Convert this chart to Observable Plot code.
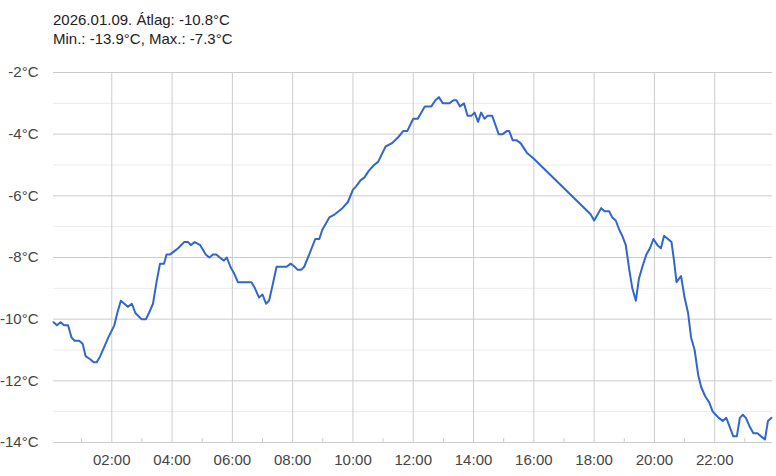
<!DOCTYPE html>
<html><head><meta charset="utf-8">
<script src="https://cdn.jsdelivr.net/npm/d3@7"></script>
<script src="https://cdn.jsdelivr.net/npm/@observablehq/plot@0.6"></script>
<style>
body{margin:0;background:#fff;font-family:Arial,"Liberation Sans",sans-serif;}
#title{height:52px;box-sizing:border-box;padding:10px 0 0 53px;font-size:15px;line-height:19px;color:#222;}
#chart svg{display:block;}
</style></head><body>
<div id="title"><div>2026.01.09. Átlag: -10.8°C</div><div>Min.: -13.9°C, Max.: -7.3°C</div></div>
<div id="chart"></div>
<script>
const day = "2026-01-09";
const times = ["00:04","00:11","00:18","00:25","00:33","00:40","00:46","00:55","01:02","01:08","01:17","01:24","01:30","01:37","01:45","01:53",
"02:05","02:11","02:18","02:32","02:40","02:47","02:59","03:08","03:14","03:22","03:29","03:36","03:44","03:49","03:56",
"04:04","04:12","04:24","04:32","04:37","04:45","04:56","05:07","05:14","05:22","05:28","05:35","05:43","05:49","05:56",
"06:03","06:11","06:20","06:38","06:45","06:53","07:00","07:07","07:13","07:20","07:28","07:48","07:56",
"08:04","08:10","08:17","08:23","08:33","08:45","08:53","08:59","09:13","09:24","09:39","09:50",
"10:00","10:06","10:15","10:23","10:31","10:42","10:50","11:05","11:17","11:30","11:40","11:48",
"12:00","12:09","12:23","12:36","12:44","12:51","12:59","13:12","13:20","13:26","13:33","13:41","13:48","13:56",
"14:02","14:09","14:15","14:22","14:28","14:37","14:50","14:58","15:06","15:11","15:18","15:26","15:34","15:46","16:00",
"17:53","18:00","18:14","18:21","18:30","18:36","18:43","18:50","18:56","19:03","19:10","19:16","19:23","19:29","19:36","19:44","19:51","19:58",
"20:06","20:13","20:19","20:27","20:34","20:39","20:44","20:53","21:00","21:07","21:13","21:20","21:27","21:33","21:41","21:49","21:56",
"22:02","22:08","22:16","22:23","22:30","22:37","22:44","22:50","22:56","23:02","23:10","23:17","23:25","23:32","23:40","23:46","23:53"];
const temps = [-10.1,-10.2,-10.1,-10.2,-10.2,-10.6,-10.7,-10.7,-10.8,-11.2,-11.3,-11.4,-11.4,-11.2,-10.9,-10.6,
-10.2,-9.8,-9.4,-9.6,-9.5,-9.8,-10.0,-10.0,-9.8,-9.5,-8.8,-8.2,-8.2,-7.9,-7.9,
-7.8,-7.7,-7.5,-7.5,-7.6,-7.5,-7.6,-7.9,-8.0,-7.9,-7.9,-8.0,-8.1,-8.0,-8.3,
-8.5,-8.8,-8.8,-8.8,-9.0,-9.3,-9.2,-9.5,-9.4,-8.9,-8.3,-8.3,-8.2,
-8.3,-8.4,-8.4,-8.3,-7.9,-7.4,-7.4,-7.1,-6.7,-6.6,-6.4,-6.2,
-5.8,-5.7,-5.5,-5.4,-5.2,-5.0,-4.9,-4.4,-4.3,-4.1,-3.9,-3.9,
-3.5,-3.5,-3.1,-3.1,-2.9,-2.8,-3.0,-3.0,-2.9,-2.9,-3.1,-3.0,-3.4,-3.4,
-3.3,-3.6,-3.3,-3.5,-3.4,-3.4,-4.0,-4.0,-3.9,-3.9,-4.2,-4.2,-4.3,-4.6,-4.8,
-6.6,-6.8,-6.4,-6.5,-6.5,-6.7,-6.8,-7.1,-7.3,-7.6,-8.4,-9.0,-9.4,-8.7,-8.3,-7.9,-7.7,-7.4,
-7.6,-7.7,-7.3,-7.4,-7.5,-8.1,-8.8,-8.6,-9.3,-9.8,-10.6,-11.0,-11.8,-12.2,-12.5,-12.7,-13.0,
-13.1,-13.2,-13.3,-13.2,-13.5,-13.8,-13.8,-13.2,-13.1,-13.2,-13.5,-13.7,-13.7,-13.8,-13.9,-13.3,-13.2];
const xDomain = ["00:04","23:55"];
const xTicks = ["02:00","04:00","06:00","08:00","10:00","12:00","14:00","16:00","18:00","20:00","22:00"];
const xMinor = ["01:00","03:00","05:00","07:00","09:00","11:00","13:00","15:00","17:00","19:00","21:00","23:00"];
const yDomain = [-14,-2];
const yTicks = [-14,-12,-10,-8,-6,-4,-2];
const yMinor = [-13,-11,-9,-7,-5,-3];

const toDate = t => new Date(`${day}T${t}:00Z`);
const data = times.map((t,i)=>({time: toDate(t), temp: temps[i]}));
const H = 424, MT = 20, MB = 34;
const chart = Plot.plot({
  width: 776, height: H, marginTop: MT, marginBottom: MB, marginLeft: 53, marginRight: 4,
  style: {fontFamily: 'Arial, "Liberation Sans", sans-serif', fontSize: "15px", color: "#444", background: "#fff", overflow: "visible"},
  x: {type: "utc", domain: xDomain.map(toDate), axis: null},
  y: {domain: yDomain, axis: null},
  marks: [
    Plot.ruleY(yMinor, {stroke: "#ebebeb", strokeWidth: 1}),
    Plot.ruleY(yTicks, {stroke: "#cccccc", strokeWidth: 1}),
    Plot.ruleX(xTicks.map(toDate), {stroke: "#cccccc", strokeWidth: 1}),
    Plot.ruleX(xMinor.map(toDate), {stroke: "#cccccc", strokeWidth: 1, insetTop: H - MT - MB - 4}),
    Plot.axisX(xTicks.map(toDate), {tickSize: 0, tickPadding: 12, tickFormat: d3.utcFormat("%H:%M"), label: null, fill: "#444"}),
    Plot.axisY(yTicks, {tickSize: 0, tickPadding: 15, tickFormat: d => `${d}°C`, label: null, fill: "#444"}),
    Plot.line(data, {x: "time", y: "temp", stroke: "#3366cc", strokeWidth: 2})
  ]
});
document.getElementById("chart").appendChild(chart);
</script>
</body></html>
